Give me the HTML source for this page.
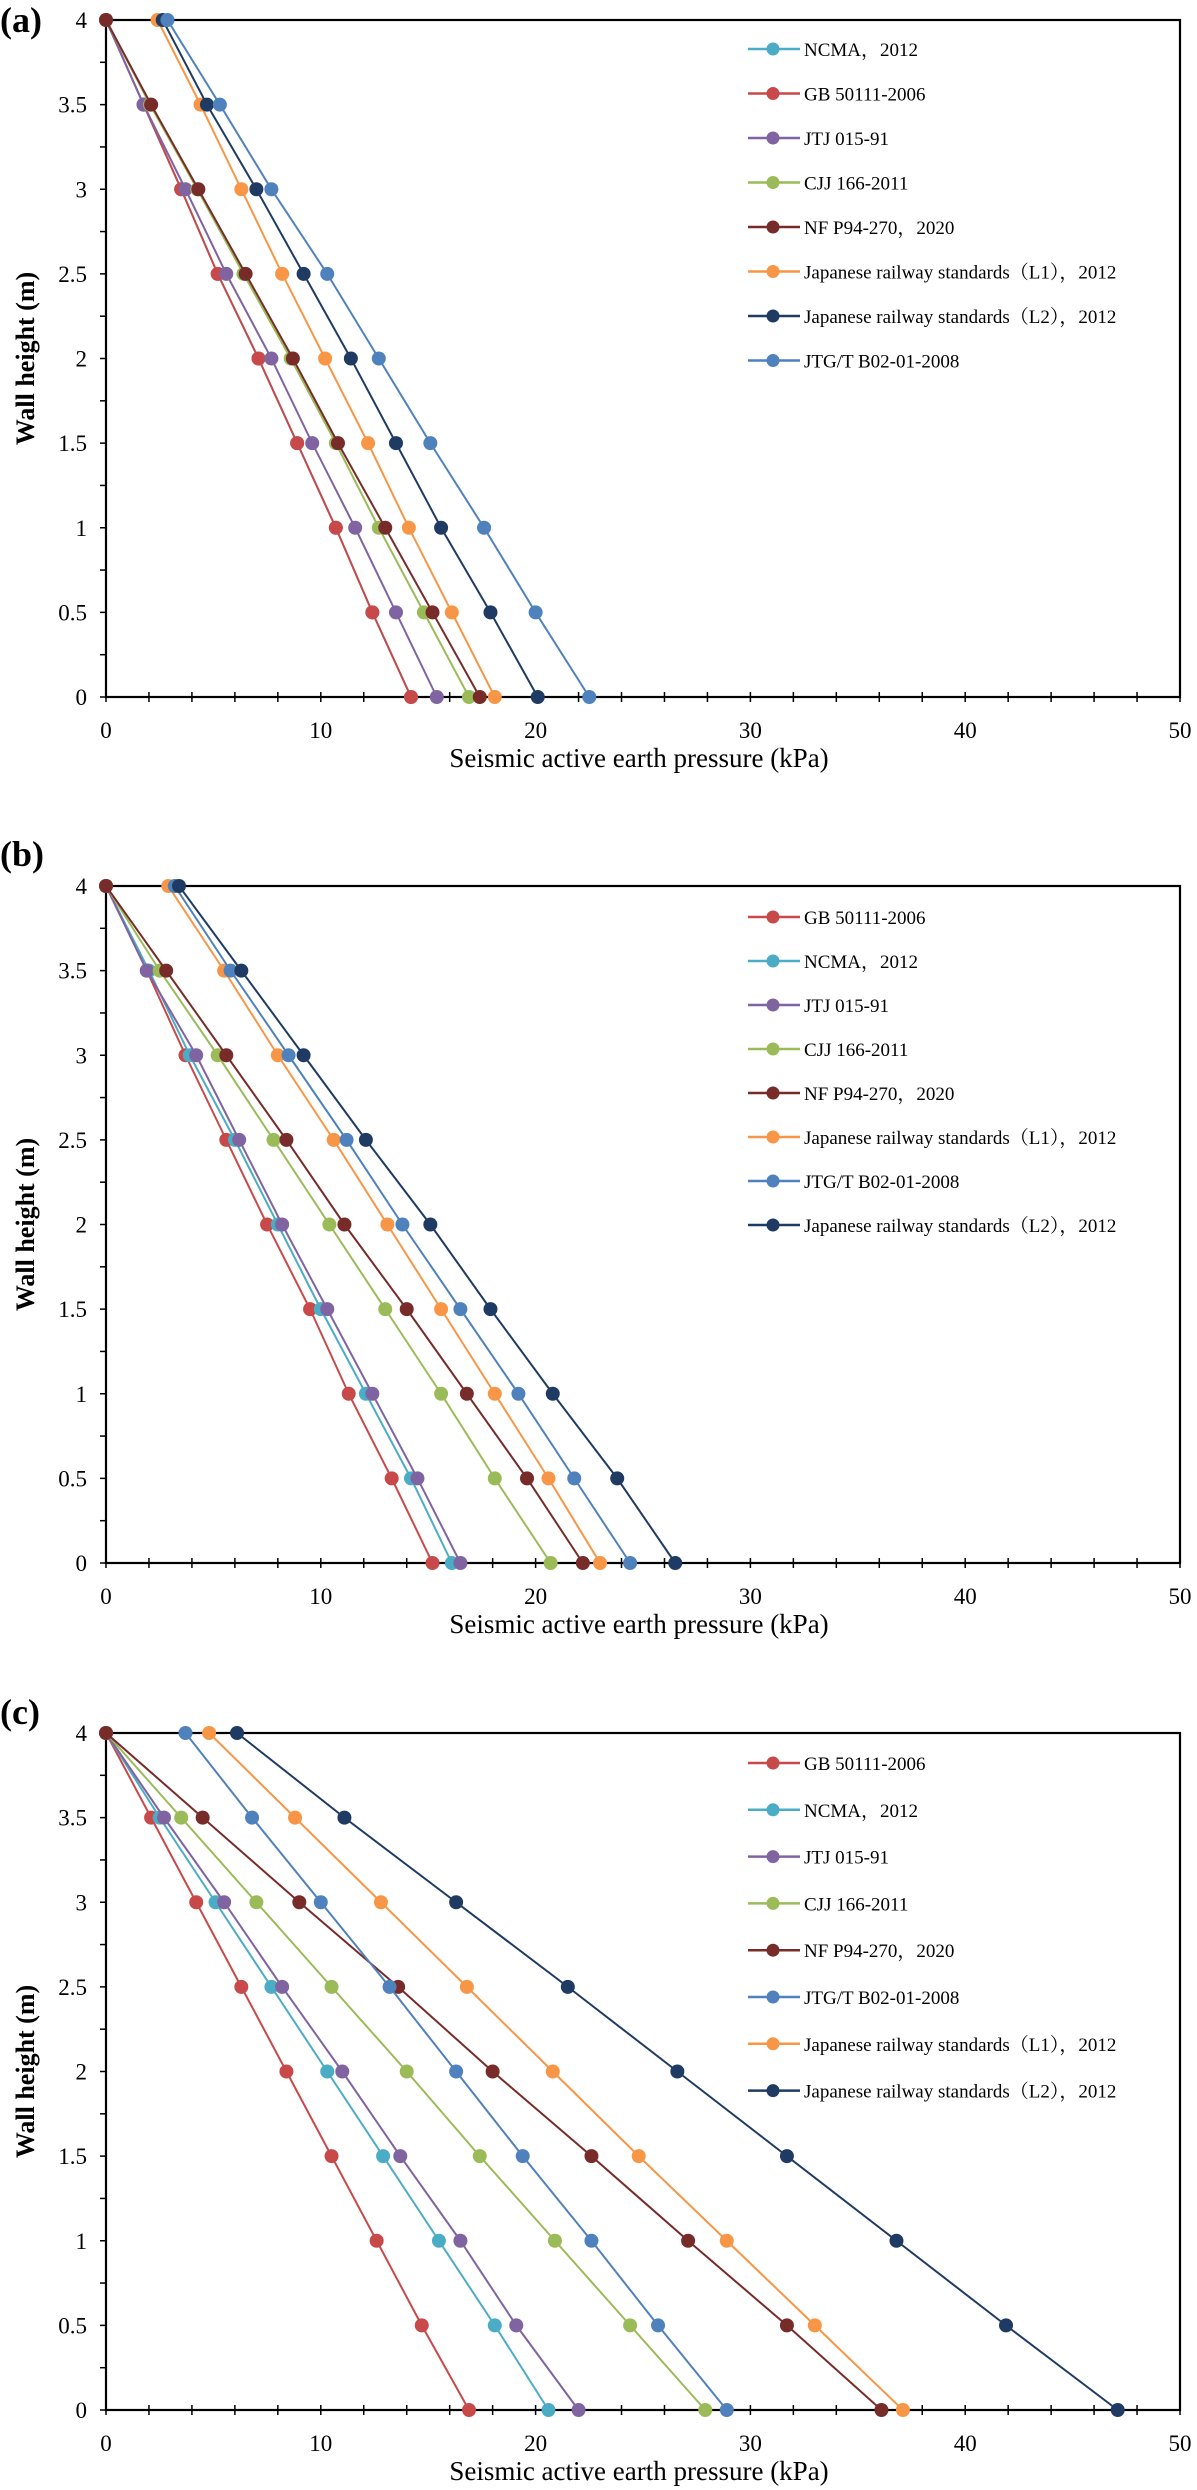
<!DOCTYPE html>
<html><head><meta charset="utf-8"><style>
html,body{margin:0;padding:0;background:#fff;}
svg{display:block;}
svg text{font-family:"Liberation Serif","Noto Serif CJK SC",serif;}
</style></head><body>
<svg id="fig" width="1197" height="2490" viewBox="0 0 1197 2490" xmlns="http://www.w3.org/2000/svg" font-family="Liberation Serif, serif"></svg>
<script>
const heights = [4, 3.5, 3, 2.5, 2, 1.5, 1, 0.5, 0];
const xTicks = [0, 10, 20, 30, 40, 50];
const yTicks = [0, 0.5, 1, 1.5, 2, 2.5, 3, 3.5, 4];
const yTickLabels = ["0", "0.5", "1", "1.5", "2", "2.5", "3", "3.5", "4"];

// Panel (a)
const aNames = ["NCMA，2012","GB 50111-2006","JTJ 015-91","CJJ 166-2011","NF P94-270，2020","Japanese railway standards（L1），2012","Japanese railway standards（L2），2012","JTG/T B02-01-2008"];
const aNCMA = [0, 1.75, 3.5, 5.2, 7.1, 8.9, 10.7, 12.4, 14.2];
const aGB   = [0, 1.75, 3.5, 5.2, 7.1, 8.9, 10.7, 12.4, 14.2];
const aJTJ  = [0, 1.75, 3.7, 5.6, 7.7, 9.6, 11.6, 13.5, 15.4];
const aCJJ  = [0, 2.05, 4.25, 6.4, 8.6, 10.7, 12.7, 14.8, 16.9];
const aNF   = [0, 2.1, 4.3, 6.5, 8.7, 10.8, 13.0, 15.2, 17.4];
const aL1   = [2.4, 4.4, 6.3, 8.2, 10.2, 12.2, 14.1, 16.1, 18.1];
const aL2   = [2.64, 4.7, 7.0, 9.2, 11.4, 13.5, 15.6, 17.9, 20.1];
const aJTG  = [2.86, 5.3, 7.7, 10.3, 12.7, 15.1, 17.6, 20.0, 22.5];

// Panel (b)
const bNames = ["GB 50111-2006","NCMA，2012","JTJ 015-91","CJJ 166-2011","NF P94-270，2020","Japanese railway standards（L1），2012","JTG/T B02-01-2008","Japanese railway standards（L2），2012"];
const bGB   = [0, 1.9, 3.7, 5.6, 7.5, 9.5, 11.3, 13.3, 15.2];
const bNCMA = [0, 2.0, 3.9, 6.0, 8.0, 10.0, 12.1, 14.2, 16.1];
const bJTJ  = [0, 1.9, 4.2, 6.2, 8.2, 10.3, 12.4, 14.5, 16.5];
const bCJJ  = [0, 2.5, 5.2, 7.8, 10.4, 13.0, 15.6, 18.1, 20.7];
const bNF   = [0, 2.8, 5.6, 8.4, 11.1, 14.0, 16.8, 19.6, 22.2];
const bL1   = [2.9, 5.5, 8.0, 10.6, 13.1, 15.6, 18.1, 20.6, 23.0];
const bJTG  = [3.2, 5.8, 8.5, 11.2, 13.8, 16.5, 19.2, 21.8, 24.4];
const bL2   = [3.4, 6.3, 9.2, 12.1, 15.1, 17.9, 20.8, 23.8, 26.5];

// Panel (c)
const cNames = ["GB 50111-2006","NCMA，2012","JTJ 015-91","CJJ 166-2011","NF P94-270，2020","JTG/T B02-01-2008","Japanese railway standards（L1），2012","Japanese railway standards（L2），2012"];
const cGB   = [0, 2.1, 4.2, 6.3, 8.4, 10.5, 12.6, 14.7, 16.9];
const cNCMA = [0, 2.5, 5.1, 7.7, 10.3, 12.9, 15.5, 18.1, 20.6];
const cJTJ  = [0, 2.7, 5.5, 8.2, 11.0, 13.7, 16.5, 19.1, 22.0];
const cCJJ  = [0, 3.5, 7.0, 10.5, 14.0, 17.4, 20.9, 24.4, 27.9];
const cNF   = [0, 4.5, 9.0, 13.6, 18.0, 22.6, 27.1, 31.7, 36.1];
const cJTG  = [3.7, 6.8, 10.0, 13.2, 16.3, 19.4, 22.6, 25.7, 28.9];
const cL1   = [4.8, 8.8, 12.8, 16.8, 20.8, 24.8, 28.9, 33.0, 37.1];
const cL2   = [6.1, 11.1, 16.3, 21.5, 26.6, 31.7, 36.8, 41.9, 47.1];

const COL = {GB:"#c8494a", NCMA:"#4bacc6", JTJ:"#8064a2", CJJ:"#9bbb59", NF:"#772c2a", L1:"#f79646", L2:"#1f3b63", JTG:"#4f81bd"};

const NS = "http://www.w3.org/2000/svg";
const fig = document.getElementById("fig");
function mk(tag, attrs, parent, text){
  const e = document.createElementNS(NS, tag);
  for (const k in attrs) e.setAttribute(k, attrs[k]);
  if (text !== undefined) e.textContent = text;
  (parent || fig).appendChild(e);
  return e;
}

const panels = [
  {label:"(a)", labelY:32, top:20, legY:49, legDy:44.5, names:aNames,
   series:[[aNCMA,COL.NCMA],[aGB,COL.GB],[aJTJ,COL.JTJ],[aCJJ,COL.CJJ],[aNF,COL.NF],[aL1,COL.L1],[aL2,COL.L2],[aJTG,COL.JTG]]},
  {label:"(b)", labelY:866, top:886, legY:917, legDy:44, names:bNames,
   series:[[bGB,COL.GB],[bNCMA,COL.NCMA],[bJTJ,COL.JTJ],[bCJJ,COL.CJJ],[bNF,COL.NF],[bL1,COL.L1],[bJTG,COL.JTG],[bL2,COL.L2]]},
  {label:"(c)", labelY:1724, top:1733, legY:1763, legDy:46.8, names:cNames,
   series:[[cGB,COL.GB],[cNCMA,COL.NCMA],[cJTJ,COL.JTJ],[cCJJ,COL.CJJ],[cNF,COL.NF],[cJTG,COL.JTG],[cL1,COL.L1],[cL2,COL.L2]]}
];

const L = 106, R = 1180, H = 677;
panels.forEach((p, pi) => {
  const g = mk("g", {});
  
  
  const T = p.top, B = T + H;
  const xs = v => L + v / 50 * (R - L);
  const ys = v => B - v / 4 * H;

  const pl = mk("text", {x:0, y:p.labelY, "font-size":36, "font-weight":"bold"}, g, p.label);
  
  

  const frame = mk("rect", {x:L, y:T, width:R-L, height:H, fill:"none", stroke:"#000", "stroke-width":2.2}, g);
  
  

  for (let v = 0; v <= 50; v += 2) {
    const t = mk("line", {x1:xs(v), x2:xs(v), y1:B-5, y2:B+5, stroke:"#000", "stroke-width":1.5}, g);
    
    
  }
  for (let v = 0; v <= 4.001; v += 0.25) {
    const t = mk("line", {x1:L-6, x2:L, y1:ys(v), y2:ys(v), stroke:"#000", "stroke-width":1.5}, g);
    
    
  }
  xTicks.forEach(v => {
    const t = mk("text", {x:xs(v), y:B+41, "font-size":23, "text-anchor":"middle"}, g, String(v));
    
    
  });
  yTicks.forEach((v, i) => {
    const t = mk("text", {x:87, y:ys(v)+8, "font-size":23, "text-anchor":"end"}, g, yTickLabels[i]);
    
    
  });
  const xt = mk("text", {x:(L+R)/2 - 4, y:B+70, "font-size":27, "text-anchor":"middle"}, g, "Seismic active earth pressure (kPa)");
  
  
  const yc = (T+B)/2;
  const yt = mk("text", {x:0, y:0, "font-size":26, "font-weight":"bold", "text-anchor":"middle", transform:`translate(34 ${yc}) rotate(-90)`}, g, "Wall height (m)");
  
  

  p.series.forEach((s, si) => {
    const vals = s[0], col = s[1];
    const sg = mk("g", {}, g);
    
    
    const pts = vals.map((v, i) => xs(v) + "," + ys(heights[i])).join(" ");
    const line = mk("polyline", {points:pts, fill:"none", stroke:col, "stroke-width":2}, sg);
    
    
    vals.forEach((v, i) => {
      const c = mk("circle", {cx:xs(v), cy:ys(heights[i]), r:7, fill:col}, sg);
      
      
    });
    const ly = p.legY + si * p.legDy;
    const lg = mk("g", {}, g);
    
    
    mk("line", {x1:748, x2:800, y1:ly, y2:ly, stroke:col, "stroke-width":2.5}, lg);
    mk("circle", {cx:773, cy:ly, r:6.5, fill:col}, lg);
    mk("text", {x:804, y:ly+7, "font-size":19}, lg, p.names[si]);
  });
});
</script>
</body></html>
